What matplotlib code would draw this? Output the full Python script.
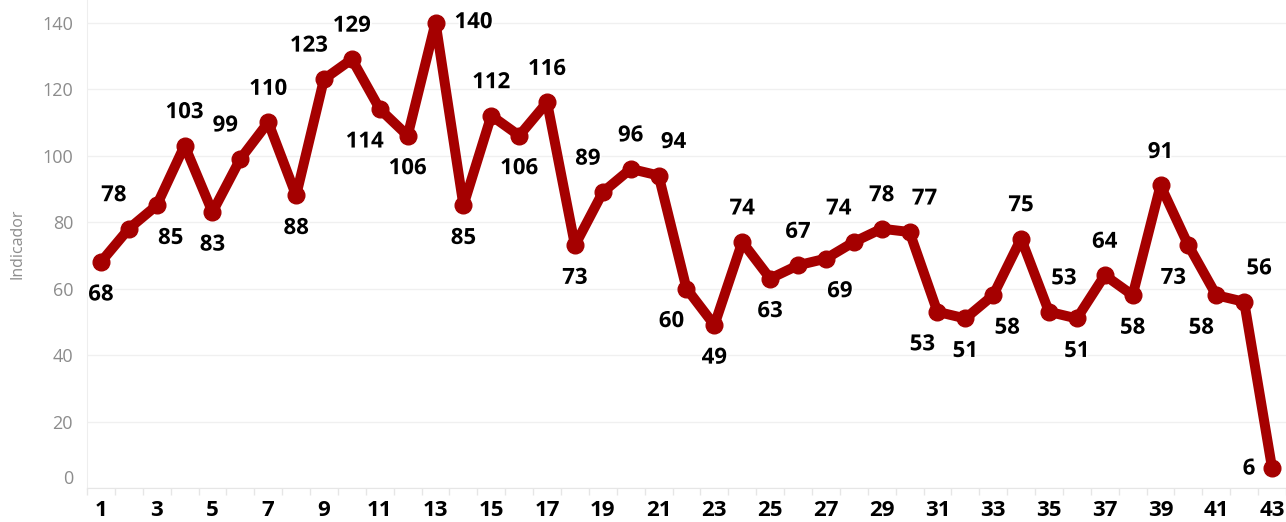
import numpy as np
import matplotlib
matplotlib.use("Agg")
import matplotlib.pyplot as plt
import matplotlib.patheffects as pe

periods = list(range(1, 44))
values = [68, 78, 85, 103, 83, 99, 110, 88, 123, 129,
          114, 106, 140, 85, 112, 106, 116, 73, 89, 96,
          94, 60, 49, 74, 63, 67, 69, 74, 78, 77,
          53, 51, 58, 75, 53, 51, 64, 58, 91, 73,
          58, 56, 6]
# where each value label sits relative to its point
label_pos = ['b', 'al', 'br', 'a', 'b', 'al', 'a', 'b', 'al', 'a',
             'bl', 'b', 'r', 'b', 'a', 'b', 'a', 'b', 'al', 'a',
             'ar', 'bl', 'b', 'a', 'b', 'a', 'br', 'al', 'a', 'ar',
             'bl', 'b', 'br', 'a', 'ar', 'b', 'a', 'b', 'a', 'bl',
             'bl', 'ar', 'l']
xtick_labels = [str(p) for p in periods if p % 2 == 1]

offsets = {'a': (0, 33), 'b': (0, -33), 'al': (-15, 33), 'ar': (15, 33),
           'bl': (-15, -33), 'br': (14, -33), 'r': (38, 0), 'l': (-23, -1)}

plt.rcParams['font.family'] = ['Open Sans', 'DejaVu Sans']

fig = plt.figure(figsize=(12.86, 5.22), dpi=100)
ax = fig.add_axes([87 / 1286, 34 / 522, 1 - 87 / 1286, 1 - 34 / 522])

red = '#a50000'
ax.plot(periods, values, color=red, lw=7.2, marker='o', ms=12,
        solid_joinstyle='round', solid_capstyle='round', zorder=3)

halo = [pe.withStroke(linewidth=2.5, foreground='white')]
for x, v, p in zip(periods, values, label_pos):
    dx, dy = offsets[p]
    ax.annotate(str(v), (x, v), xytext=(dx, dy), textcoords='offset pixels',
                ha='center', va='center', fontsize=16, fontweight='bold',
                color='black', path_effects=halo, zorder=4)

ax.set_xlim(0.57, 43.36)
ax.set_ylim(0, 146.8)

ax.set_yticks(range(0, 141, 20))
ax.tick_params(axis='y', length=0, pad=10, labelsize=13, labelcolor='#8c8c8c')
ax.set_xticks([p for p in periods if p % 2 == 1])
ax.set_xticklabels(xtick_labels)
ax.set_xticks(np.arange(0.5, 44, 1), minor=True)
ax.tick_params(axis='x', which='major', length=0, pad=9, labelsize=16)
ax.tick_params(axis='x', which='minor', length=5, color='#e6e6e6', width=1)
for lab in ax.get_xticklabels():
    lab.set_fontweight('bold')
# zero label sits a little above the baseline, as in the original
ax.get_yticklabels()[0].set_y(4)
for lab in ax.get_yticklabels():
    if lab.get_text() == '0':
        lab.set_va('bottom')

ax.grid(axis='y', color='#f0f0f0', lw=1)
ax.set_axisbelow(True)
for s in ['top', 'right']:
    ax.spines[s].set_visible(False)
ax.spines['left'].set_color('#eeeeee')
ax.spines['bottom'].set_color('#e6e6e6')

ax.set_ylabel('Indicador', fontsize=11.5, color='#8c8c8c', labelpad=12)

fig.savefig('out.png', dpi=100)
